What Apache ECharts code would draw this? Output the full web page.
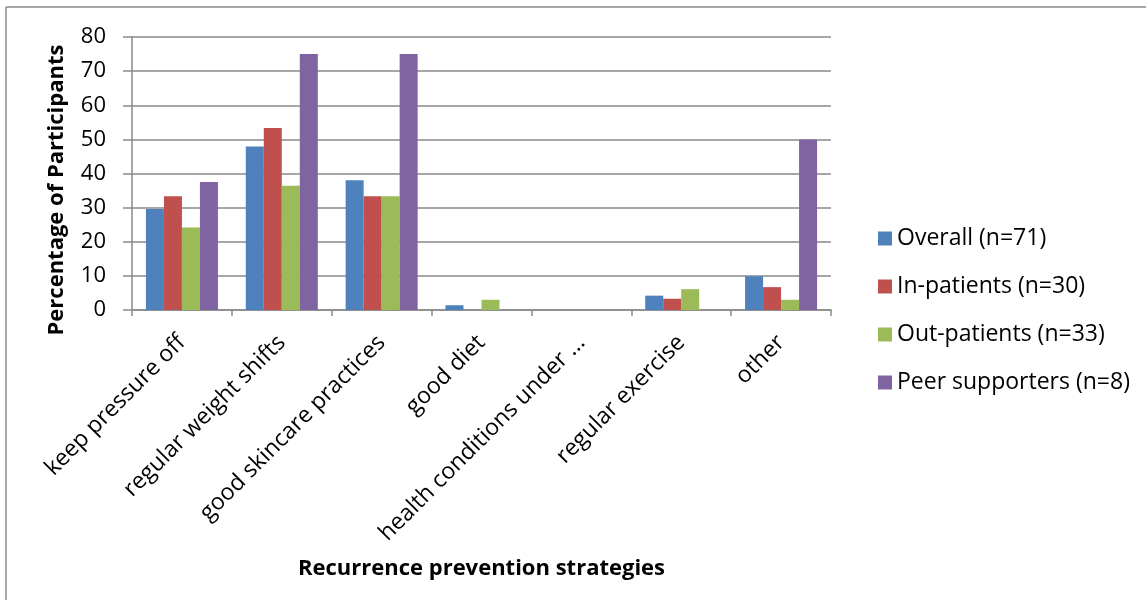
<!DOCTYPE html>
<html>
<head>
<meta charset="utf-8">
<script src="https://cdn.jsdelivr.net/npm/echarts@6/dist/echarts.min.js"></script>
<style>
  html, body { margin: 0; padding: 0; background: #ffffff; }
  #chart { width: 1146px; height: 600px; }
</style>
</head>
<body>
<div id="chart"></div>
<script>
// Strategies named by participants for preventing recurrence
const categories = [
  'keep pressure off',
  'regular weight shifts',
  'good skincare practices',
  'good diet',
  'health conditions under ...',
  'regular exercise',
  'other'
];

const seriesNames = [
  'Overall (n=71)',
  'In-patients (n=30)',
  'Out-patients (n=33)',
  'Peer supporters (n=8)'
];

// Percentage of participants in each group
const overall        = [29.6, 47.9, 38.0, 1.4, 0, 4.2, 9.9];
const inPatients     = [33.3, 53.3, 33.3, 0,   0, 3.3, 6.7];
const outPatients    = [24.2, 36.4, 33.3, 3.0, 0, 6.1, 3.0];
const peerSupporters = [37.5, 75.0, 75.0, 0,   0, 0,   50.0];

const yTicks = { min: 0, max: 80, interval: 10 };

const colors = ['#4F81BD', '#C0504D', '#9BBB59', '#8064A2'];
const groups = [overall, inPatients, outPatients, peerSupporters];

const fontFamily = '"Open Sans", Lato, sans-serif';
const axisGray = '#8a8a8a';

const chart = echarts.init(document.getElementById('chart'), null, { renderer: 'canvas' });

chart.setOption({
  animation: false,
  backgroundColor: '#ffffff',
  color: colors,
  textStyle: { fontFamily: fontFamily, color: '#000' },
  grid: { left: 132, top: 37, width: 699, height: 273, containLabel: false },
  legend: {
    orient: 'vertical',
    left: 873,
    top: 222,
    itemWidth: 14,
    itemHeight: 14,
    itemGap: 25,
    icon: 'rect',
    textStyle: { fontSize: 23, fontFamily: fontFamily, color: '#000' },
    data: seriesNames
  },
  xAxis: {
    type: 'category',
    data: categories,
    name: 'Recurrence prevention strategies',
    nameLocation: 'middle',
    nameGap: 248,
    nameTextStyle: { fontSize: 22, fontWeight: 'bold', fontFamily: fontFamily, color: '#000' },
    axisLine: { lineStyle: { color: axisGray, width: 1.5 } },
    axisTick: { show: true, length: 6, alignWithLabel: false, lineStyle: { color: axisGray, width: 1.5 } },
    axisLabel: {
      interval: 0,
      rotate: 45,
      margin: 29,
      fontSize: 23,
      fontFamily: fontFamily,
      color: '#000'
    }
  },
  yAxis: {
    type: 'value',
    min: yTicks.min,
    max: yTicks.max,
    interval: yTicks.interval,
    axisLine: { show: true, lineStyle: { color: axisGray, width: 1.5 } },
    axisTick: { show: true, length: 9, lineStyle: { color: axisGray, width: 1.5 } },
    axisLabel: { fontSize: 22, margin: 26, fontFamily: fontFamily, color: '#000' },
    splitLine: { show: true, lineStyle: { color: axisGray, width: 1.5 } }
  },
  series: groups.map((values, i) => ({
    name: seriesNames[i],
    type: 'bar',
    data: values,
    barWidth: 18,
    barGap: '0%',
    itemStyle: { color: colors[i] }
  })),
  graphic: [
    { type: 'line', silent: true, shape: { x1: 6, y1: 7, x2: 1146, y2: 7 }, style: { stroke: axisGray, lineWidth: 1.5 } },
    { type: 'line', silent: true, shape: { x1: 6, y1: 7, x2: 6, y2: 600 }, style: { stroke: axisGray, lineWidth: 1.5 } },
    {
      type: 'text',
      silent: true,
      x: 57,
      y: 190,
      rotation: Math.PI / 2,
      style: {
        text: 'Percentage of Participants',
        align: 'center',
        verticalAlign: 'middle',
        fontSize: 22,
        fontWeight: 'bold',
        fontFamily: fontFamily,
        fill: '#000'
      }
    }
  ]
});
</script>
</body>
</html>
